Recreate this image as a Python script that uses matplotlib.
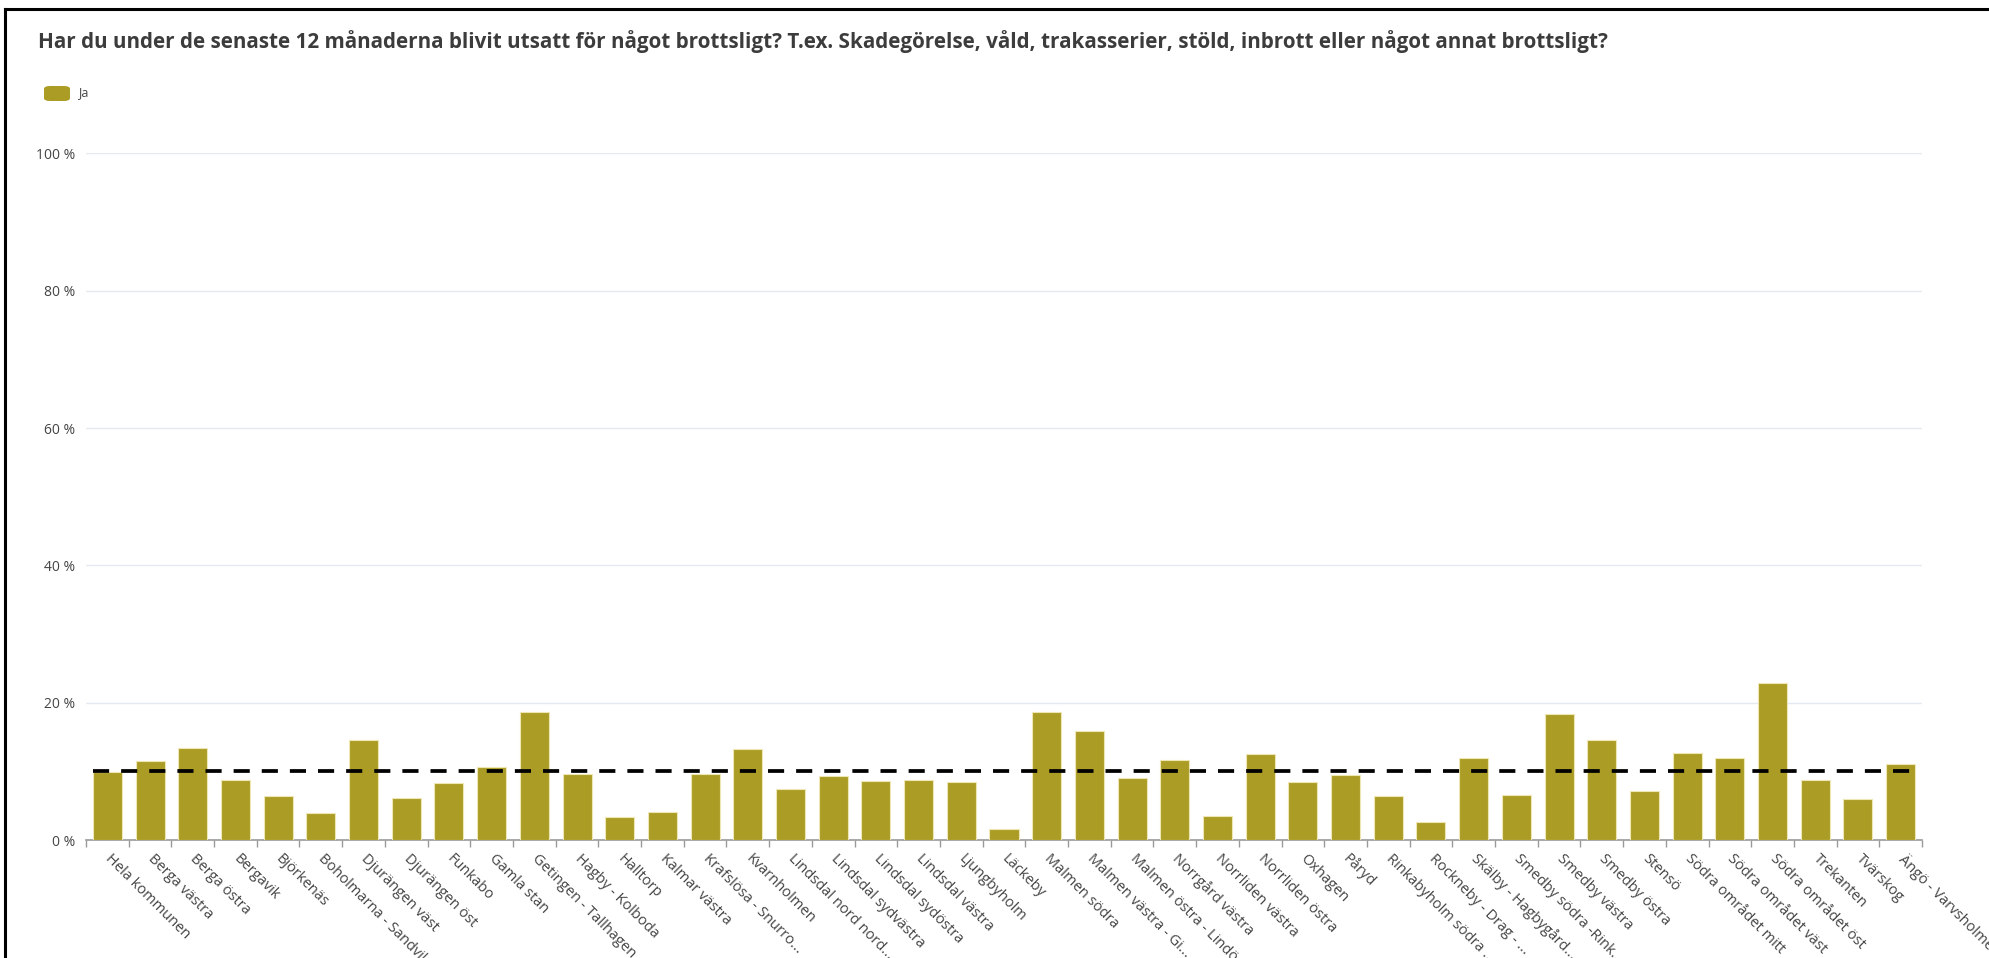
import matplotlib
matplotlib.use("Agg")
import matplotlib.pyplot as plt
from matplotlib.patches import FancyBboxPatch
from matplotlib.lines import Line2D
import numpy as np

# data
areas = [
    "Hela kommunen", "Berga västra", "Berga östra", "Bergavik", "Björkenäs",
    "Boholmarna - Sandvik", "Djurängen väst", "Djurängen öst", "Funkabo",
    "Gamla stan", "Getingen - Tallhagen", "Hagby - Kolboda", "Halltorp",
    "Kalmar västra", "Krafslösa - Snurro...", "Kvarnholmen",
    "Lindsdal nord nord...", "Lindsdal sydvästra", "Lindsdal sydöstra",
    "Lindsdal västra", "Ljungbyholm", "Läckeby", "Malmen södra",
    "Malmen västra - Gi...", "Malmen östra - Lindö...", "Norrgård västra",
    "Norrliden västra", "Norrliden östra", "Oxhagen", "Påryd",
    "Rinkabyholm södra ...", "Rockneby - Drag - ...", "Skälby - Hagbygård...",
    "Smedby södra -Rink...", "Smedby västra", "Smedby östra", "Stensö",
    "Södra området mitt", "Södra området väst", "Södra området öst",
    "Trekanten", "Tvärskog", "Ängö - Varvsholmen",
]
ja = [
    9.9, 11.5, 13.4, 8.8, 6.4, 4.0, 14.5, 6.1, 8.3, 10.7,
    18.7, 9.6, 3.3, 4.1, 9.6, 13.3, 7.5, 9.3, 8.6, 8.7,
    8.5, 1.6, 18.6, 15.9, 9.0, 11.6, 3.5, 12.6, 8.5, 9.4,
    6.4, 2.6, 11.9, 6.6, 18.4, 14.5, 7.1, 12.7, 12.0, 22.9,
    8.8, 6.0, 11.0,
]
reference = 10  # dashed line, Hela kommunen level
yticks = [0, 20, 40, 60, 80, 100]
title = ("Har du under de senaste 12 månaderna blivit utsatt för något brottsligt? "
         "T.ex. Skadegörelse, våld, trakasserier, stöld, inbrott eller något annat brottsligt?")

bar_color = "#ab9c25"
text_color = "#444444"
plt.rcParams["font.family"] = ["Open Sans", "DejaVu Sans"]

W, H = 1990, 958
fig = plt.figure(figsize=(W / 100, H / 100), dpi=100)
ax = fig.add_axes([86 / W, (H - 840) / H, (1922 - 86) / W, (840 - 153.5) / H])

x = np.arange(len(areas))
bw = 0.68
ax.bar(x, ja, width=bw, color=bar_color, edgecolor="#eee6b4", linewidth=0.8, zorder=3)
ax.plot([x[0] - bw / 2, x[-1] + bw / 2], [reference, reference], color="black",
        lw=2.7, linestyle=(0, (4.3, 3.2)), zorder=4)

ax.set_xlim(-0.5, len(areas) - 0.5)
ax.set_ylim(0, 100)
ax.set_yticks(yticks)
ax.set_yticklabels([f"{v} %" for v in yticks])
ax.tick_params(axis="y", length=0, pad=8, labelsize=10, labelcolor=text_color)
ax.grid(axis="y", color="#e4e9f2", lw=1, zorder=0)

ax.set_xticks(x)
ax.set_xticklabels(areas, rotation=-45, ha="left", va="center", rotation_mode="anchor")
ax.tick_params(axis="x", which="major", length=0, pad=12, labelsize=10.5, labelcolor=text_color)
ax.set_xticks(np.arange(len(areas) + 1) - 0.5, minor=True)
ax.tick_params(axis="x", which="minor", length=5, width=1, color="#999999")

for s in ["top", "right", "left"]:
    ax.spines[s].set_visible(False)
ax.spines["bottom"].set_color("#9a9a9a")
ax.spines["bottom"].set_linewidth(1.2)

# frame of the screenshot
fig.add_artist(Line2D([5 / W, 5 / W], [0, 1 - 9 / H], color="black", lw=2.2))
fig.add_artist(Line2D([5 / W, 1], [1 - 9 / H, 1 - 9 / H], color="black", lw=2.2))

fig.text(38 / W, 1 - 42 / H, title, fontsize=14.9, fontweight="bold",
         color="#3c3c3c", va="center", ha="left")

# legend
leg = FancyBboxPatch((44 / W, 1 - 101 / H), 26 / W, 15 / H,
                     boxstyle="round,pad=0,rounding_size=0.003",
                     transform=fig.transFigure, facecolor=bar_color, edgecolor="none")
fig.add_artist(leg)
fig.text(78 / W, 1 - 93 / H, "Ja", fontsize=9, color=text_color, va="center", ha="left")

fig.savefig("out.png", dpi=100)
